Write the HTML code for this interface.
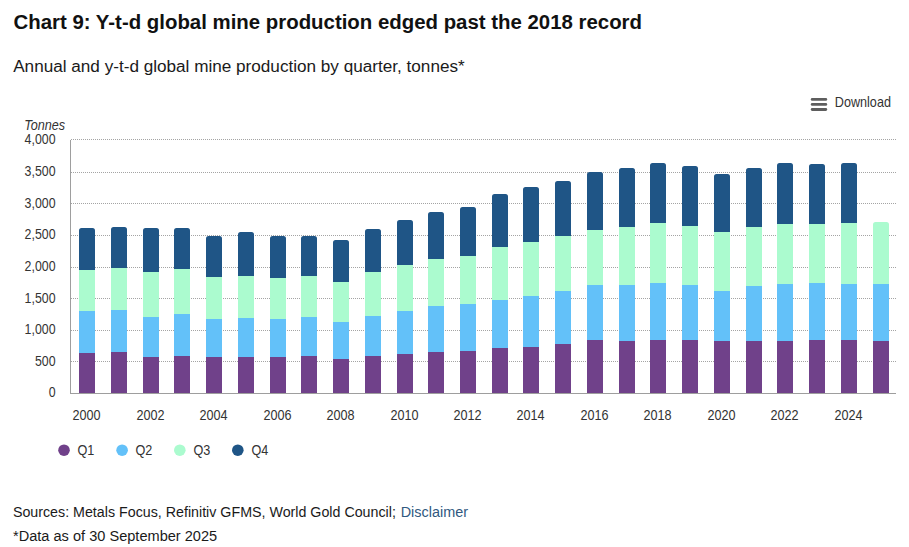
<!DOCTYPE html>
<html><head><meta charset="utf-8">
<style>
html,body{margin:0;padding:0;background:#fff;}
body{width:909px;height:547px;overflow:hidden;position:relative;font-family:"Liberation Sans",sans-serif;}
svg{position:absolute;left:0;top:0;}
.ax{font-family:"Liberation Sans",sans-serif;fill:#333;}
.t{font-family:"Liberation Sans",sans-serif;}
</style></head><body>
<svg width="909" height="547" viewBox="0 0 909 547">
<text class="t" x="13.5" y="28.7" font-size="20" font-weight="bold" fill="#111" textLength="628.5" lengthAdjust="spacingAndGlyphs">Chart 9: Y-t-d global mine production edged past the 2018 record</text>
<text class="t" x="13.2" y="71.5" font-size="16" fill="#1a1a1a" textLength="451.5" lengthAdjust="spacingAndGlyphs">Annual and y-t-d global mine production by quarter, tonnes*</text>
<g fill="#5e5e5e">
<rect x="810.8" y="98" width="16.4" height="2.8" rx="1.4"/>
<rect x="810.8" y="103" width="16.4" height="2.8" rx="1.4"/>
<rect x="810.8" y="108.1" width="16.4" height="2.8" rx="1.4"/>
</g>
<text transform="translate(834.8,106.5) scale(0.915,1)" font-size="13.8" text-anchor="start" class="ax">Download</text>
<text transform="translate(24.2,129.7) scale(0.89,1)" font-size="14.2" text-anchor="start" class="ax" font-style="italic">Tonnes</text>
<line x1="71" y1="139.5" x2="896" y2="139.5" stroke="#a4a4a4" stroke-width="1" stroke-dasharray="1,1"/>
<line x1="71" y1="172.5" x2="896" y2="172.5" stroke="#a4a4a4" stroke-width="1" stroke-dasharray="1,1"/>
<line x1="71" y1="203.5" x2="896" y2="203.5" stroke="#a4a4a4" stroke-width="1" stroke-dasharray="1,1"/>
<line x1="71" y1="235.5" x2="896" y2="235.5" stroke="#a4a4a4" stroke-width="1" stroke-dasharray="1,1"/>
<line x1="71" y1="267.5" x2="896" y2="267.5" stroke="#a4a4a4" stroke-width="1" stroke-dasharray="1,1"/>
<line x1="71" y1="298.5" x2="896" y2="298.5" stroke="#a4a4a4" stroke-width="1" stroke-dasharray="1,1"/>
<line x1="71" y1="330.5" x2="896" y2="330.5" stroke="#a4a4a4" stroke-width="1" stroke-dasharray="1,1"/>
<line x1="71" y1="361.5" x2="896" y2="361.5" stroke="#a4a4a4" stroke-width="1" stroke-dasharray="1,1"/>
<rect x="79" y="353" width="16" height="40" fill="#70418a"/>
<rect x="79" y="311" width="16" height="42" fill="#63c1f9"/>
<rect x="79" y="270" width="16" height="41" fill="#abfbcf"/>
<path fill="#1f5586" d="M79,270V230.5Q79,228 81.5,228H92.5Q95,228 95,230.5V270Z"/>
<rect x="111" y="352" width="16" height="41" fill="#70418a"/>
<rect x="111" y="310" width="16" height="42" fill="#63c1f9"/>
<rect x="111" y="268" width="16" height="42" fill="#abfbcf"/>
<path fill="#1f5586" d="M111,268V229.5Q111,227 113.5,227H124.5Q127,227 127,229.5V268Z"/>
<rect x="143" y="357" width="16" height="36" fill="#70418a"/>
<rect x="143" y="317" width="16" height="40" fill="#63c1f9"/>
<rect x="143" y="272" width="16" height="45" fill="#abfbcf"/>
<path fill="#1f5586" d="M143,272V230.5Q143,228 145.5,228H156.5Q159,228 159,230.5V272Z"/>
<rect x="174" y="356" width="16" height="37" fill="#70418a"/>
<rect x="174" y="314" width="16" height="42" fill="#63c1f9"/>
<rect x="174" y="269" width="16" height="45" fill="#abfbcf"/>
<path fill="#1f5586" d="M174,269V230.5Q174,228 176.5,228H187.5Q190,228 190,230.5V269Z"/>
<rect x="206" y="357" width="16" height="36" fill="#70418a"/>
<rect x="206" y="319" width="16" height="38" fill="#63c1f9"/>
<rect x="206" y="277" width="16" height="42" fill="#abfbcf"/>
<path fill="#1f5586" d="M206,277V238.5Q206,236 208.5,236H219.5Q222,236 222,238.5V277Z"/>
<rect x="238" y="357" width="16" height="36" fill="#70418a"/>
<rect x="238" y="318" width="16" height="39" fill="#63c1f9"/>
<rect x="238" y="276" width="16" height="42" fill="#abfbcf"/>
<path fill="#1f5586" d="M238,276V234.5Q238,232 240.5,232H251.5Q254,232 254,234.5V276Z"/>
<rect x="270" y="357" width="16" height="36" fill="#70418a"/>
<rect x="270" y="319" width="16" height="38" fill="#63c1f9"/>
<rect x="270" y="278" width="16" height="41" fill="#abfbcf"/>
<path fill="#1f5586" d="M270,278V238.5Q270,236 272.5,236H283.5Q286,236 286,238.5V278Z"/>
<rect x="301" y="356" width="16" height="37" fill="#70418a"/>
<rect x="301" y="317" width="16" height="39" fill="#63c1f9"/>
<rect x="301" y="276" width="16" height="41" fill="#abfbcf"/>
<path fill="#1f5586" d="M301,276V238.5Q301,236 303.5,236H314.5Q317,236 317,238.5V276Z"/>
<rect x="333" y="359" width="16" height="34" fill="#70418a"/>
<rect x="333" y="322" width="16" height="37" fill="#63c1f9"/>
<rect x="333" y="282" width="16" height="40" fill="#abfbcf"/>
<path fill="#1f5586" d="M333,282V242.5Q333,240 335.5,240H346.5Q349,240 349,242.5V282Z"/>
<rect x="365" y="356" width="16" height="37" fill="#70418a"/>
<rect x="365" y="316" width="16" height="40" fill="#63c1f9"/>
<rect x="365" y="272" width="16" height="44" fill="#abfbcf"/>
<path fill="#1f5586" d="M365,272V231.5Q365,229 367.5,229H378.5Q381,229 381,231.5V272Z"/>
<rect x="397" y="354" width="16" height="39" fill="#70418a"/>
<rect x="397" y="311" width="16" height="43" fill="#63c1f9"/>
<rect x="397" y="265" width="16" height="46" fill="#abfbcf"/>
<path fill="#1f5586" d="M397,265V222.5Q397,220 399.5,220H410.5Q413,220 413,222.5V265Z"/>
<rect x="428" y="352" width="16" height="41" fill="#70418a"/>
<rect x="428" y="306" width="16" height="46" fill="#63c1f9"/>
<rect x="428" y="259" width="16" height="47" fill="#abfbcf"/>
<path fill="#1f5586" d="M428,259V214.5Q428,212 430.5,212H441.5Q444,212 444,214.5V259Z"/>
<rect x="460" y="351" width="16" height="42" fill="#70418a"/>
<rect x="460" y="304" width="16" height="47" fill="#63c1f9"/>
<rect x="460" y="256" width="16" height="48" fill="#abfbcf"/>
<path fill="#1f5586" d="M460,256V209.5Q460,207 462.5,207H473.5Q476,207 476,209.5V256Z"/>
<rect x="492" y="348" width="16" height="45" fill="#70418a"/>
<rect x="492" y="300" width="16" height="48" fill="#63c1f9"/>
<rect x="492" y="247" width="16" height="53" fill="#abfbcf"/>
<path fill="#1f5586" d="M492,247V196.5Q492,194 494.5,194H505.5Q508,194 508,196.5V247Z"/>
<rect x="523" y="347" width="16" height="46" fill="#70418a"/>
<rect x="523" y="296" width="16" height="51" fill="#63c1f9"/>
<rect x="523" y="242" width="16" height="54" fill="#abfbcf"/>
<path fill="#1f5586" d="M523,242V189.5Q523,187 525.5,187H536.5Q539,187 539,189.5V242Z"/>
<rect x="555" y="344" width="16" height="49" fill="#70418a"/>
<rect x="555" y="291" width="16" height="53" fill="#63c1f9"/>
<rect x="555" y="236" width="16" height="55" fill="#abfbcf"/>
<path fill="#1f5586" d="M555,236V183.5Q555,181 557.5,181H568.5Q571,181 571,183.5V236Z"/>
<rect x="587" y="340" width="16" height="53" fill="#70418a"/>
<rect x="587" y="285" width="16" height="55" fill="#63c1f9"/>
<rect x="587" y="230" width="16" height="55" fill="#abfbcf"/>
<path fill="#1f5586" d="M587,230V174.5Q587,172 589.5,172H600.5Q603,172 603,174.5V230Z"/>
<rect x="619" y="341" width="16" height="52" fill="#70418a"/>
<rect x="619" y="285" width="16" height="56" fill="#63c1f9"/>
<rect x="619" y="227" width="16" height="58" fill="#abfbcf"/>
<path fill="#1f5586" d="M619,227V170.5Q619,168 621.5,168H632.5Q635,168 635,170.5V227Z"/>
<rect x="650" y="340" width="16" height="53" fill="#70418a"/>
<rect x="650" y="283" width="16" height="57" fill="#63c1f9"/>
<rect x="650" y="223" width="16" height="60" fill="#abfbcf"/>
<path fill="#1f5586" d="M650,223V165.5Q650,163 652.5,163H663.5Q666,163 666,165.5V223Z"/>
<rect x="682" y="340" width="16" height="53" fill="#70418a"/>
<rect x="682" y="285" width="16" height="55" fill="#63c1f9"/>
<rect x="682" y="226" width="16" height="59" fill="#abfbcf"/>
<path fill="#1f5586" d="M682,226V168.5Q682,166 684.5,166H695.5Q698,166 698,168.5V226Z"/>
<rect x="714" y="341" width="16" height="52" fill="#70418a"/>
<rect x="714" y="291" width="16" height="50" fill="#63c1f9"/>
<rect x="714" y="232" width="16" height="59" fill="#abfbcf"/>
<path fill="#1f5586" d="M714,232V176.5Q714,174 716.5,174H727.5Q730,174 730,176.5V232Z"/>
<rect x="746" y="341" width="16" height="52" fill="#70418a"/>
<rect x="746" y="286" width="16" height="55" fill="#63c1f9"/>
<rect x="746" y="227" width="16" height="59" fill="#abfbcf"/>
<path fill="#1f5586" d="M746,227V170.5Q746,168 748.5,168H759.5Q762,168 762,170.5V227Z"/>
<rect x="777" y="341" width="16" height="52" fill="#70418a"/>
<rect x="777" y="284" width="16" height="57" fill="#63c1f9"/>
<rect x="777" y="224" width="16" height="60" fill="#abfbcf"/>
<path fill="#1f5586" d="M777,224V165.5Q777,163 779.5,163H790.5Q793,163 793,165.5V224Z"/>
<rect x="809" y="340" width="16" height="53" fill="#70418a"/>
<rect x="809" y="283" width="16" height="57" fill="#63c1f9"/>
<rect x="809" y="224" width="16" height="59" fill="#abfbcf"/>
<path fill="#1f5586" d="M809,224V166.5Q809,164 811.5,164H822.5Q825,164 825,166.5V224Z"/>
<rect x="841" y="340" width="16" height="53" fill="#70418a"/>
<rect x="841" y="284" width="16" height="56" fill="#63c1f9"/>
<rect x="841" y="223" width="16" height="61" fill="#abfbcf"/>
<path fill="#1f5586" d="M841,223V165.5Q841,163 843.5,163H854.5Q857,163 857,165.5V223Z"/>
<rect x="873" y="341" width="16" height="52" fill="#70418a"/>
<rect x="873" y="284" width="16" height="57" fill="#63c1f9"/>
<path fill="#abfbcf" d="M873,284V224.5Q873,222 875.5,222H886.5Q889,222 889,224.5V284Z"/>
<rect x="70" y="140" width="1" height="254" fill="#9e9e9e"/>
<rect x="70" y="393" width="826" height="1" fill="#9e9e9e"/>
<text transform="translate(55.5,144.4) scale(0.87,1)" font-size="14.2" text-anchor="end" class="ax">4,000</text>
<text transform="translate(55.5,176.03) scale(0.87,1)" font-size="14.2" text-anchor="end" class="ax">3,500</text>
<text transform="translate(55.5,207.65) scale(0.87,1)" font-size="14.2" text-anchor="end" class="ax">3,000</text>
<text transform="translate(55.5,239.28) scale(0.87,1)" font-size="14.2" text-anchor="end" class="ax">2,500</text>
<text transform="translate(55.5,270.9) scale(0.87,1)" font-size="14.2" text-anchor="end" class="ax">2,000</text>
<text transform="translate(55.5,302.52) scale(0.87,1)" font-size="14.2" text-anchor="end" class="ax">1,500</text>
<text transform="translate(55.5,334.15) scale(0.87,1)" font-size="14.2" text-anchor="end" class="ax">1,000</text>
<text transform="translate(55.5,365.77) scale(0.87,1)" font-size="14.2" text-anchor="end" class="ax">500</text>
<text transform="translate(55.5,397.4) scale(0.87,1)" font-size="14.2" text-anchor="end" class="ax">0</text>
<text transform="translate(86.6,420) scale(0.89,1)" font-size="14.2" text-anchor="middle" class="ax">2000</text>
<text transform="translate(150.6,420) scale(0.89,1)" font-size="14.2" text-anchor="middle" class="ax">2002</text>
<text transform="translate(213.6,420) scale(0.89,1)" font-size="14.2" text-anchor="middle" class="ax">2004</text>
<text transform="translate(277.6,420) scale(0.89,1)" font-size="14.2" text-anchor="middle" class="ax">2006</text>
<text transform="translate(340.6,420) scale(0.89,1)" font-size="14.2" text-anchor="middle" class="ax">2008</text>
<text transform="translate(404.6,420) scale(0.89,1)" font-size="14.2" text-anchor="middle" class="ax">2010</text>
<text transform="translate(467.6,420) scale(0.89,1)" font-size="14.2" text-anchor="middle" class="ax">2012</text>
<text transform="translate(530.6,420) scale(0.89,1)" font-size="14.2" text-anchor="middle" class="ax">2014</text>
<text transform="translate(594.6,420) scale(0.89,1)" font-size="14.2" text-anchor="middle" class="ax">2016</text>
<text transform="translate(657.6,420) scale(0.89,1)" font-size="14.2" text-anchor="middle" class="ax">2018</text>
<text transform="translate(721.6,420) scale(0.89,1)" font-size="14.2" text-anchor="middle" class="ax">2020</text>
<text transform="translate(784.6,420) scale(0.89,1)" font-size="14.2" text-anchor="middle" class="ax">2022</text>
<text transform="translate(848.6,420) scale(0.89,1)" font-size="14.2" text-anchor="middle" class="ax">2024</text>
<circle cx="64" cy="450.2" r="5.8" fill="#70418a"/>
<text transform="translate(77.4,454.9) scale(0.89,1)" font-size="14.2" text-anchor="start" class="ax">Q1</text>
<circle cx="122.1" cy="450.2" r="5.8" fill="#63c1f9"/>
<text transform="translate(135.5,454.9) scale(0.89,1)" font-size="14.2" text-anchor="start" class="ax">Q2</text>
<circle cx="179.8" cy="450.2" r="5.8" fill="#abfbcf"/>
<text transform="translate(193.5,454.9) scale(0.89,1)" font-size="14.2" text-anchor="start" class="ax">Q3</text>
<circle cx="237.8" cy="450.2" r="5.8" fill="#1f5586"/>
<text transform="translate(251.5,454.9) scale(0.89,1)" font-size="14.2" text-anchor="start" class="ax">Q4</text>
<text class="t" x="12.9" y="516.8" font-size="14" fill="#1a1a1a" textLength="383" lengthAdjust="spacingAndGlyphs">Sources: Metals Focus, Refinitiv GFMS, World Gold Council;</text>
<text class="t" x="400.7" y="516.8" font-size="14" fill="#31597f" textLength="67.3" lengthAdjust="spacingAndGlyphs">Disclaimer</text>
<text class="t" x="13" y="540.6" font-size="14" fill="#1a1a1a" textLength="204.2" lengthAdjust="spacingAndGlyphs">*Data as of 30 September 2025</text>
</svg>
</body></html>
